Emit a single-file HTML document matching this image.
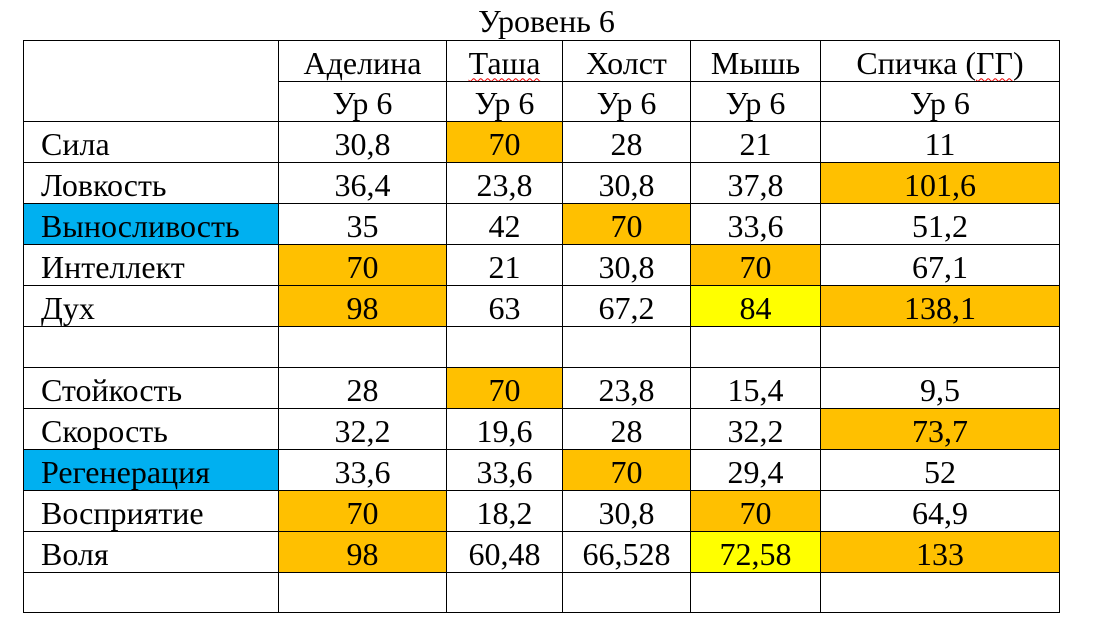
<!DOCTYPE html>
<html><head><meta charset="utf-8"><style>
html,body{margin:0;padding:0;background:#fff;width:1093px;height:634px;overflow:hidden}
body{font-family:"Liberation Serif","Noto Serif CJK SC",serif;color:#000}
.title{position:absolute;left:0;width:1093px;top:3px;text-align:center;font-size:32px;line-height:36px}
table{position:absolute;left:23px;top:40px;border-collapse:collapse;table-layout:fixed;font-size:32px}
td{border:1.5px solid #000;padding:3px 0 0 0;text-align:center;line-height:34px;height:36px;overflow:hidden;white-space:nowrap;vertical-align:middle;box-sizing:border-box}
td.l{text-align:left;padding-left:17px}
tr{height:41px}
.o{background:#FFC000}.y{background:#FFFF00}.b{background:#00B0F0}
.w{text-decoration:underline wavy #e00;text-decoration-thickness:1px;text-underline-offset:4px}
</style></head><body>
<div class="title">Уровень 6</div>
<table>
<colgroup><col style="width:255px"><col style="width:168px"><col style="width:116px"><col style="width:128px"><col style="width:130px"><col style="width:239px"></colgroup>
<tr style="height:41px"><td rowspan="2"></td><td>Аделина</td><td><span class="w">Таша</span></td><td>Холст</td><td>Мышь</td><td>Спичка (<span class="w">ГГ</span>)</td></tr>
<tr style="height:40px"><td>Ур 6</td><td>Ур 6</td><td>Ур 6</td><td>Ур 6</td><td>Ур 6</td></tr>
<tr><td class="l">Сила</td><td>30,8</td><td class="o">70</td><td>28</td><td>21</td><td>11</td></tr>
<tr><td class="l">Ловкость</td><td>36,4</td><td>23,8</td><td>30,8</td><td>37,8</td><td class="o">101,6</td></tr>
<tr><td class="l b">Выносливость</td><td>35</td><td>42</td><td class="o">70</td><td>33,6</td><td>51,2</td></tr>
<tr><td class="l">Интеллект</td><td class="o">70</td><td>21</td><td>30,8</td><td class="o">70</td><td>67,1</td></tr>
<tr><td class="l">Дух</td><td class="o">98</td><td>63</td><td>67,2</td><td class="y">84</td><td class="o">138,1</td></tr>
<tr><td></td><td></td><td></td><td></td><td></td><td></td></tr>
<tr><td class="l">Стойкость</td><td>28</td><td class="o">70</td><td>23,8</td><td>15,4</td><td>9,5</td></tr>
<tr><td class="l">Скорость</td><td>32,2</td><td>19,6</td><td>28</td><td>32,2</td><td class="o">73,7</td></tr>
<tr><td class="l b">Регенерация</td><td>33,6</td><td>33,6</td><td class="o">70</td><td>29,4</td><td>52</td></tr>
<tr><td class="l">Восприятие</td><td class="o">70</td><td>18,2</td><td>30,8</td><td class="o">70</td><td>64,9</td></tr>
<tr><td class="l">Воля</td><td class="o">98</td><td>60,48</td><td>66,528</td><td class="y">72,58</td><td class="o">133</td></tr>
<tr style="height:40px"><td></td><td></td><td></td><td></td><td></td><td></td></tr>
</table>
</body></html>
